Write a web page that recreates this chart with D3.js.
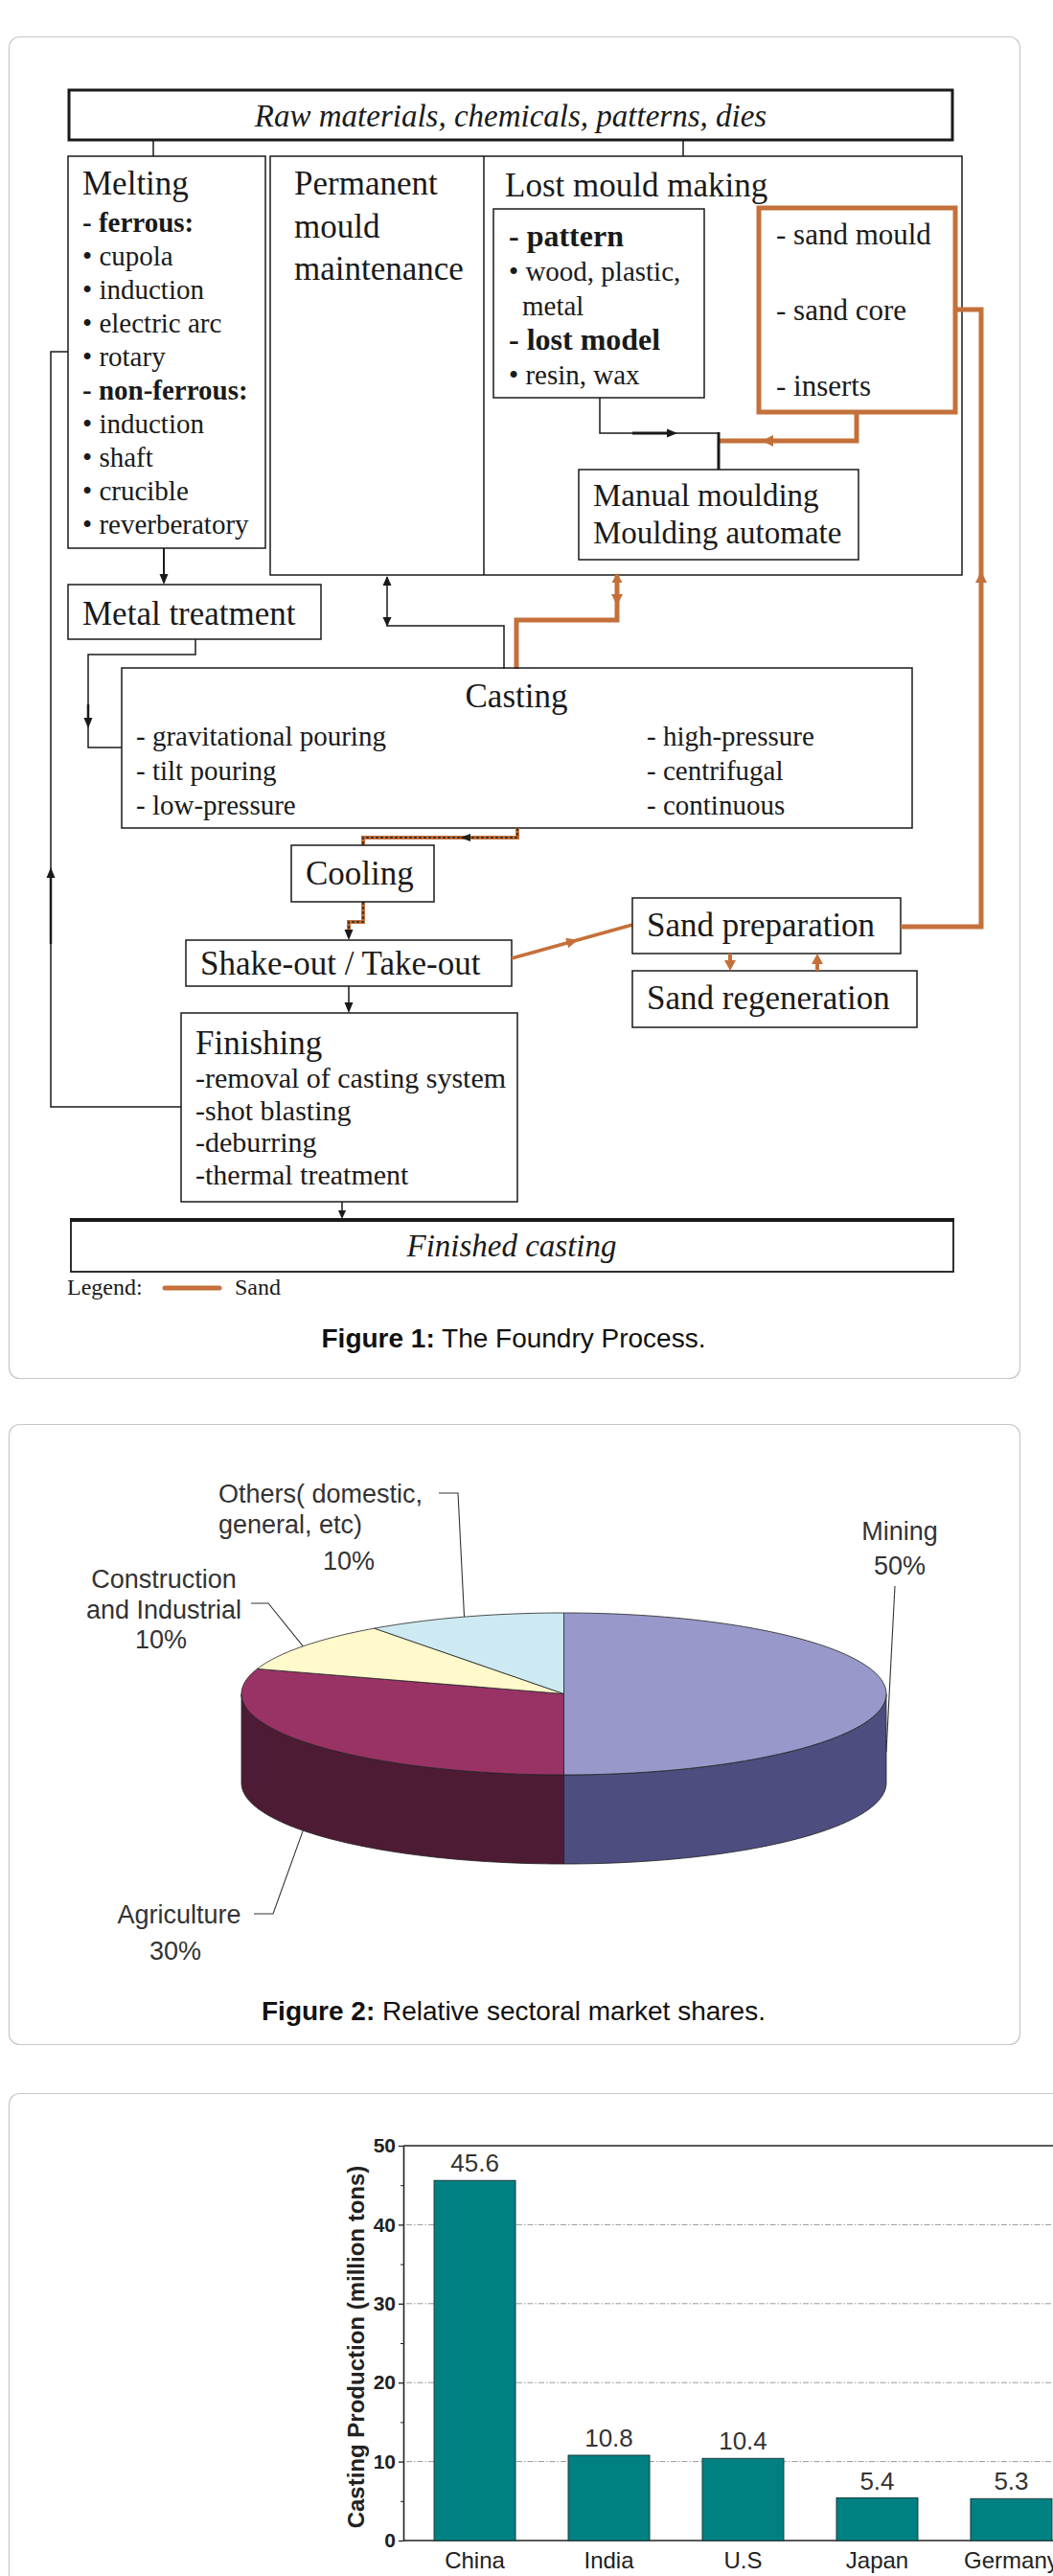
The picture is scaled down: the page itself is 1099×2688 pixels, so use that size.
<!DOCTYPE html>
<html>
<head>
<meta charset="utf-8">
<script src="https://cdn.jsdelivr.net/npm/d3@7"></script>
<style>
body { margin: 0; background: #fff; overflow: hidden; }
svg { display: block; }
text { white-space: pre; }
</style>
</head>
<body>
<svg id="page" width="1099" height="2688"></svg>
<script>
// ---------- data ----------
const rawLabel = 'Raw materials, chemicals, patterns, dies';
const finishedLabel = 'Finished casting';
const meltingText = [
    ['Melting', 'title'], ['- ferrous:', 'head'], ['• cupola', 'item'], ['• induction', 'item'],
    ['• electric arc', 'item'], ['• rotary', 'item'], ['- non-ferrous:', 'head'], ['• induction', 'item'],
    ['• shaft', 'item'], ['• crucible', 'item'], ['• reverberatory', 'item']
];
const permanentText = ['Permanent', 'mould', 'maintenance'];
const lostMouldTitle = 'Lost mould making';
const patternText = [['- pattern', 'head'], ['• wood, plastic,', 'item'], ['metal', 'indent'], ['- lost model', 'head'], ['• resin, wax', 'item']];
const sandText = ['- sand mould', '- sand core', '- inserts'];
const mouldingText = ['Manual moulding', 'Moulding automate'];
const castingLeft = ['- gravitational pouring', '- tilt pouring', '- low-pressure'];
const castingRight = ['- high-pressure', '- centrifugal', '- continuous'];
const finishingText = ['-removal of casting system', '-shot blasting', '-deburring', '-thermal treatment'];

const sectors = ['Mining', 'Agriculture', 'Construction and Industrial', 'Others( domestic, general, etc)'];
const sectorLines = [['Mining'], ['Agriculture'], ['Construction', 'and Industrial'], ['Others( domestic,', 'general, etc)']];
const shares = [50, 30, 10, 10];

const countries = ['China', 'India', 'U.S', 'Japan', 'Germany'];
const production = [45.6, 10.8, 10.4, 5.4, 5.3];
const yTicks = [0, 10, 20, 30, 40, 50];
const yMinorTicks = [5, 15, 25, 35, 45];

// ---------- helpers ----------
const svg = d3.select('#page');
const SERIF = "'Liberation Serif','Times New Roman',serif";
const SANS = "'Liberation Sans',Arial,sans-serif";
const INK = '#1a1a1a';
const ORANGE = '#c5703a';

function poly(g, pts, color, w, dash) {
    g.append('path')
        .attr('d', d3.line()(pts))
        .attr('fill', 'none')
        .attr('stroke', color)
        .attr('stroke-width', w)
        .attr('stroke-dasharray', dash || null);
}
function head(g, x, y, dir, color, len = 11, half = 4.5) {
    const ang = typeof dir === 'number' ? dir : { down: 90, up: -90, left: 180, right: 0 }[dir];
    g.append('path')
        .attr('d', `M0,0L${-len},${-half}L${-len},${half}Z`)
        .attr('transform', `translate(${x},${y}) rotate(${ang})`)
        .attr('fill', color);
}
function box(g, x0, y0, x1, y1, color = INK, w = 1.5) {
    g.append('rect')
        .attr('x', x0).attr('y', y0)
        .attr('width', x1 - x0).attr('height', y1 - y0)
        .attr('fill', 'none').attr('stroke', color).attr('stroke-width', w);
}
function txt(g, x, y, s, size, o = {}) {
    return g.append('text')
        .attr('x', x).attr('y', y)
        .attr('font-family', o.sans ? SANS : SERIF)
        .attr('font-size', size)
        .attr('font-weight', o.bold ? 'bold' : null)
        .attr('font-style', o.italic ? 'italic' : null)
        .attr('text-anchor', o.anchor || 'start')
        .attr('fill', o.fill || INK)
        .text(s);
}
function caption(y, bold, rest) {
    const t = svg.append('text')
        .attr('x', 536).attr('y', y)
        .attr('text-anchor', 'middle')
        .attr('font-family', SANS).attr('font-size', 28).attr('fill', '#111');
    t.append('tspan').attr('font-weight', 'bold').text(bold);
    t.append('tspan').text(rest);
}

// panels
[[38, 1438], [1486, 2133], [2184, 2800]].forEach(([y0, y1], i) => {
    svg.append('rect')
        .attr('x', 9.5).attr('y', y0 + 0.5)
        .attr('width', i === 2 ? 1300 : 1055).attr('height', y1 - y0)
        .attr('rx', 11)
        .attr('fill', '#fff').attr('stroke', '#c8c8c8').attr('stroke-width', 1.2);
});

// ---------- Figure 1: flowchart ----------
const fc = svg.append('g');

box(fc, 72, 94, 994, 146, INK, 3);
txt(fc, 533, 132, rawLabel, 33, { italic: true, anchor: 'middle' });
poly(fc, [[160, 146], [160, 163]], INK, 1.5);
poly(fc, [[713, 146], [713, 163]], INK, 1.5);

// melting
box(fc, 71, 163, 277, 572);
let yy = 203;
meltingText.forEach(([s, k], i) => {
    if (i === 1) yy += 39; else if (i > 1) yy += 35;
    txt(fc, 86, yy, s, k === 'title' ? 35 : 29, { bold: k === 'head' });
});

// permanent + lost mould
box(fc, 282, 163, 1004, 600);
poly(fc, [[505, 163], [505, 600]], INK, 1.5);
permanentText.forEach((s, i) => txt(fc, 307, 203 + i * 44.5, s, 35));
txt(fc, 527, 205, lostMouldTitle, 35);

box(fc, 515, 218, 735, 415);
patternText.forEach(([s, k], i) => {
    txt(fc, k === 'indent' ? 545 : 531, 257 + i * 36, s, k === 'head' ? 32 : 29, { bold: k === 'head' });
});

box(fc, 792, 217, 997, 430, ORANGE, 5);
sandText.forEach((s, i) => txt(fc, 810, 255 + i * 79, s, 31));

box(fc, 604, 490, 896, 584);
mouldingText.forEach((s, i) => txt(fc, 619, 528 + i * 39, s, 33));

// pattern -> moulding and sand -> moulding
poly(fc, [[626, 415], [626, 452], [750, 452]], INK, 1.5);
poly(fc, [[660, 452], [700, 452]], INK, 3);
head(fc, 707, 452, 'right', INK);
poly(fc, [[894, 430], [894, 460], [750, 460]], ORANGE, 5);
head(fc, 795, 460, 'left', ORANGE, 12, 6);
poly(fc, [[750, 451], [750, 490]], INK, 3);

// moulding -> casting (sand)
poly(fc, [[644, 600], [644, 647], [539, 647], [539, 698]], ORANGE, 5);
head(fc, 644, 598, 'up', ORANGE, 10, 5.5);
head(fc, 644, 632, 'down', ORANGE, 12, 6);

// permanent mould <-> casting
poly(fc, [[404, 602], [404, 653], [526, 653], [526, 698]], INK, 1.5);
head(fc, 404, 601, 'up', INK, 10, 4.5);
head(fc, 404, 654, 'down', INK, 10, 4.5);

// metal treatment
box(fc, 71, 610, 335, 667);
txt(fc, 86, 652, 'Metal treatment', 35);
poly(fc, [[171, 572], [171, 600]], INK, 2);
head(fc, 171, 610, 'down', INK);
poly(fc, [[204, 667], [204, 683], [92, 683], [92, 780], [127, 780]], INK, 1.5);
poly(fc, [[92, 735], [92, 752]], INK, 2.5);
head(fc, 92, 760, 'down', INK);

// casting
box(fc, 127, 697, 952, 864);
txt(fc, 539, 738, 'Casting', 35, { anchor: 'middle' });
castingLeft.forEach((s, i) => txt(fc, 142, 778 + i * 36, s, 29));
castingRight.forEach((s, i) => txt(fc, 675, 778 + i * 36, s, 29));

// casting -> cooling -> shake-out (sand + metal)
const mixed = [[[540, 864], [540, 874], [379, 874], [379, 882]], [[379, 941], [379, 962], [364, 962], [364, 975]]];
mixed.forEach(p => {
    poly(fc, p, ORANGE, 4);
    poly(fc, p, '#222', 1.5, '3,2');
});
head(fc, 480, 874, 'left', '#222', 11, 4);
head(fc, 364, 981, 'down', INK);

box(fc, 304, 882, 453, 941);
txt(fc, 319, 923, 'Cooling', 35);

box(fc, 194, 981, 534, 1029);
txt(fc, 209, 1017, 'Shake-out / Take-out', 35);
poly(fc, [[364, 1029], [364, 1048]], INK, 1.5);
head(fc, 364, 1057, 'down', INK);

// shake-out -> sand preparation
const sp0 = [534, 1000], sp1 = [660, 965];
poly(fc, [sp0, sp1], ORANGE, 3.5);
head(fc, sp0[0] + (sp1[0] - sp0[0]) * 0.55, sp0[1] + (sp1[1] - sp0[1]) * 0.55,
    Math.atan2(sp1[1] - sp0[1], sp1[0] - sp0[0]) * 180 / Math.PI, ORANGE, 12, 5.5);

box(fc, 660, 937, 940, 995);
txt(fc, 675, 977, 'Sand preparation', 35);
box(fc, 660, 1013, 957, 1072);
txt(fc, 675, 1053, 'Sand regeneration', 35);
poly(fc, [[762, 995], [762, 1003]], ORANGE, 4);
head(fc, 762, 1013, 'down', ORANGE, 11, 6);
poly(fc, [[853, 1005], [853, 1013]], ORANGE, 4);
head(fc, 853, 995, 'up', ORANGE, 11, 6);

// sand preparation -> sand box
poly(fc, [[940, 967], [1024, 967], [1024, 323], [997, 323]], ORANGE, 5);
head(fc, 1024, 596, 'up', ORANGE, 12, 6);

// finishing
box(fc, 189, 1057, 540, 1254);
txt(fc, 204, 1100, 'Finishing', 35);
finishingText.forEach((s, i) => txt(fc, 204, 1135 + i * 33.5, s, 30));
poly(fc, [[189, 1155], [53, 1155], [53, 367], [71, 367]], INK, 1.5);
poly(fc, [[53, 985], [53, 915]], INK, 2.5);
head(fc, 53, 905, 'up', INK);
poly(fc, [[357, 1254], [357, 1264]], INK, 1.5);
head(fc, 357, 1272, 'down', INK, 9, 4);

box(fc, 74, 1272, 995, 1327, INK, 1.8);
poly(fc, [[73, 1273], [996, 1273]], INK, 4);
txt(fc, 534, 1311, finishedLabel, 33, { italic: true, anchor: 'middle' });

// legend
txt(fc, 70, 1351, 'Legend:', 24);
fc.append('line').attr('x1', 172).attr('x2', 229).attr('y1', 1344).attr('y2', 1344)
    .attr('stroke', ORANGE).attr('stroke-width', 5).attr('stroke-linecap', 'round');
txt(fc, 245, 1351, 'Sand', 24);

caption(1406, 'Figure 1:', ' The Foundry Process.');

// ---------- Figure 2: 3D pie ----------
const pg = svg.append('g');
const cx = 588.5, cy = 1767.5, rx = 336.5, ry = 84.5, depth = 93;
const topColors = ['#9898ca', '#993366', '#fff9cc', '#cdeaf2'];
const sideColors = ['#4d4d7f', '#4e1b34', '#bdb98f', '#8fb0b6'];
const arcs = d3.pie().sort(null).startAngle(0).endAngle(2 * Math.PI)(shares);

const rim = (a, dy = 0) => [cx + rx * Math.sin(a), cy - ry * Math.cos(a) + dy];
function rimPts(a0, a1, dy) {
    const n = Math.max(2, Math.ceil(Math.abs(a1 - a0) / 0.02));
    return d3.range(n + 1).map(i => rim(a0 + (a1 - a0) * i / n, dy));
}

// sides (front half only)
arcs.forEach((d, i) => {
    const a0 = Math.max(d.startAngle, Math.PI / 2);
    const a1 = Math.min(d.endAngle, Math.PI * 1.5);
    if (a1 <= a0) return;
    const pts = rimPts(a0, a1, 0).concat(rimPts(a1, a0, depth));
    pg.append('path')
        .attr('d', d3.line()(pts) + 'Z')
        .attr('fill', sideColors[i])
        .attr('stroke', '#222').attr('stroke-width', 0.8);
});
// tops
arcs.forEach((d, i) => {
    const pts = [[cx, cy]].concat(rimPts(d.startAngle, d.endAngle, 0));
    pg.append('path')
        .attr('d', d3.line()(pts) + 'Z')
        .attr('fill', topColors[i])
        .attr('stroke', '#222').attr('stroke-width', 0.8);
});

// labels
const pieLabelLayout = [
    { x: 939, y: 1607, lh: 36, anchor: 'middle', pctX: 939, rimDy: depth * 0.65, elbow: [[934, 1655]] },
    { x: 187, y: 2007, lh: 38, anchor: 'middle', pctX: 183, rimDy: depth, elbow: [[285, 1997], [265, 1997]] },
    { x: 171, y: 1657, lh: 31.5, anchor: 'middle', pctX: 168, rimDy: 0, elbow: [[280, 1673], [262, 1673]] },
    { x: 228, y: 1568, lh: 32, anchor: 'start', pctX: 364, pctGap: 38, rimDy: 0, elbow: [[478, 1558], [458, 1558]] }
];
arcs.forEach((d, i) => {
    const L = pieLabelLayout[i];
    const mid = (d.startAngle + d.endAngle) / 2;
    poly(pg, [rim(mid, L.rimDy)].concat(L.elbow), '#333', 1.1);
    const lines = sectorLines[i];
    lines.forEach((s, j) => txt(pg, L.x, L.y + j * L.lh, s, 27, { sans: true, anchor: L.anchor, fill: '#333' }));
    const py = L.y + (lines.length - 1) * L.lh + (L.pctGap || L.lh);
    txt(pg, L.pctX, py, shares[i] + '%', 27, { sans: true, anchor: 'middle', fill: '#333' });
});

caption(2108, 'Figure 2:', ' Relative sectoral market shares.');

// ---------- Figure 3: bar chart ----------
const bg = svg.append('g');
const y = d3.scaleLinear().domain([0, 50]).range([2651, 2239]);
const x = d3.scaleBand().domain(countries).range([421, 1130]).paddingInner(0.393).paddingOuter(0.229);
const xRight = 1400;

// gridlines
bg.selectAll('.grid').data(yTicks.filter(t => t > 0 && t < 50)).enter()
    .append('line')
    .attr('x1', 424).attr('x2', xRight)
    .attr('y1', d => y(d)).attr('y2', d => y(d))
    .attr('stroke', '#9a9a9a').attr('stroke-width', 1)
    .attr('stroke-dasharray', '6,2,1.5,2');

// frame
poly(bg, [[421, y(50)], [xRight, y(50)]], '#222', 1.6);
poly(bg, [[421, y(0)], [xRight, y(0)]], '#222', 1.6);

// bars
bg.selectAll('.bar').data(countries).enter()
    .append('rect')
    .attr('x', d => x(d))
    .attr('width', x.bandwidth())
    .attr('y', (d, i) => y(production[i]))
    .attr('height', (d, i) => y(0) - y(production[i]))
    .attr('fill', '#008080')
    .attr('stroke', '#173c3c').attr('stroke-width', 1);

bg.selectAll('.val').data(countries).enter()
    .append('text')
    .attr('x', d => x(d) + x.bandwidth() / 2)
    .attr('y', (d, i) => y(production[i]) - 9)
    .attr('text-anchor', 'middle')
    .attr('font-family', SANS).attr('font-size', 26).attr('fill', '#333')
    .text((d, i) => production[i].toFixed(1));

bg.selectAll('.cat').data(countries).enter()
    .append('text')
    .attr('x', d => x(d) + x.bandwidth() / 2)
    .attr('y', 2680)
    .attr('text-anchor', 'middle')
    .attr('font-family', SANS).attr('font-size', 24).attr('fill', '#222')
    .text(d => d);

// y axis
const yAxis = bg.append('g').attr('transform', 'translate(421,0)')
    .call(d3.axisLeft(y).tickValues(yTicks).tickSize(5).tickSizeOuter(0).tickPadding(3));
yAxis.select('.domain').attr('stroke', '#222').attr('stroke-width', 1.6);
yAxis.selectAll('.tick line').attr('stroke', '#222').attr('stroke-width', 1.3);
yAxis.selectAll('.tick text')
    .attr('font-family', SANS).attr('font-size', 21).attr('font-weight', 'bold').attr('fill', '#222');
bg.append('g').attr('transform', 'translate(421,0)')
    .call(d3.axisLeft(y).tickValues(yMinorTicks).tickSize(3).tickFormat(''))
    .call(g => g.select('.domain').remove())
    .selectAll('.tick line').attr('stroke', '#222');

bg.append('text')
    .attr('transform', `translate(380,${(y(0) + y(50)) / 2 + 4}) rotate(-90)`)
    .attr('text-anchor', 'middle')
    .attr('font-family', SANS).attr('font-size', 24).attr('font-weight', 'bold').attr('fill', '#222')
    .text('Casting Production (million tons)');
</script>
</body>
</html>
